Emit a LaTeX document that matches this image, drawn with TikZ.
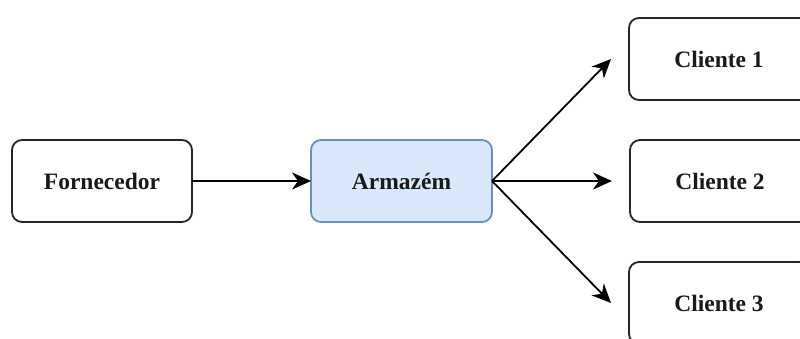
\documentclass[tikz,border=0pt]{standalone}
\usepackage{fontspec}
\setmainfont{Liberation Serif}
\usetikzlibrary{arrows.meta}
\definecolor{boxblue}{HTML}{DAE8FC}
\definecolor{boxblueline}{HTML}{6C8EBF}
\begin{document}
\begin{tikzpicture}[x=1pt,y=-1pt,
  box/.style={draw=black!85, line width=1.8pt, rounded corners=10pt, fill=white,
    minimum width=180pt, minimum height=82pt, inner sep=0pt, outer sep=0pt,
    font=\fontsize{23.5}{27}\selectfont\bfseries, text=black!90},
  bluebox/.style={box, draw=boxblueline, fill=boxblue},
  conn/.style={line width=1.8pt, draw=black, -{Stealth[length=19pt,width=17pt,inset=6pt]}}]
\useasboundingbox (0,0) rectangle (800,338);
\clip (0,0) rectangle (800,338);
\fill[white] (0,0) rectangle (800,338);
\node[box] (forn) at (102,181) {Fornecedor};
\node[bluebox, minimum width=181pt] (arm) at (401.5,181) {Armazém};
\node[box] (c1) at (719,59) {Cliente 1};
\node[box] (c2) at (720,181) {Cliente 2};
\node[box] (c3) at (719,303) {Cliente 3};
\coordinate (e1) at (611,59);
\coordinate (e2) at (612,181);
\coordinate (e3) at (611,303);
\draw[conn] (forn.east) -- (arm.west);
\draw[conn] (arm.east) -- (e1);
\draw[conn] (arm.east) -- (e2);
\draw[conn] (arm.east) -- (e3);
\end{tikzpicture}
\end{document}
